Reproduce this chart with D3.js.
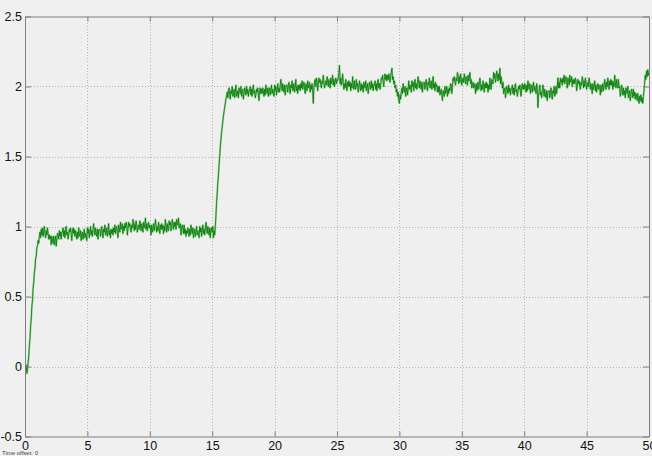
<!DOCTYPE html>
<html>
<head>
<meta charset="utf-8">
<script src="https://cdn.jsdelivr.net/npm/d3@7"></script>
<style>
  html, body { margin: 0; padding: 0; background: #f0f0f0; }
  svg { display: block; }
  text { font-family: "Liberation Sans", Arial, Helvetica, sans-serif; }
</style>
</head>
<body>
<svg id="chart" width="652" height="456"></svg>
<script>
// Scope trace: one sample every 0.05 s from t = 0 to t = 50 (one row per second)
const sampleStep = 0.05;
const signal = [
  0.02, -0.03, 0.01, -0.05, -0.02, 0.03, 0.07, 0.15, 0.20, 0.29, 0.34, 0.43, 0.47, 0.56, 0.60, 0.67, 0.70, 0.77, 0.79, 0.85,
  0.86, 0.90, 0.88, 0.93, 0.96, 0.92, 0.98, 0.94, 0.99, 0.93, 0.97, 1.00, 0.95, 0.92, 0.97, 0.94, 0.99, 0.95, 0.91, 0.94,
  0.91, 0.93, 0.87, 0.93, 0.90, 0.88, 0.93, 0.87, 0.90, 0.93, 0.86, 0.91, 0.95, 0.94, 0.91, 0.97, 0.93, 0.96, 0.91, 0.96,
  0.96, 0.99, 0.93, 0.97, 0.92, 0.98, 1.00, 0.94, 0.96, 0.91, 0.94, 0.98, 0.96, 0.99, 0.94, 0.90, 0.97, 0.99, 0.95, 0.98,
  0.93, 0.97, 0.95, 0.91, 0.96, 0.92, 0.99, 0.95, 0.93, 0.97, 0.90, 0.94, 0.96, 0.91, 0.95, 0.98, 0.92, 0.95, 0.93, 0.90,
  0.99, 0.95, 0.98, 0.92, 0.96, 1.00, 0.94, 0.97, 0.93, 0.98, 1.02, 0.97, 0.94, 0.99, 0.95, 0.93, 0.98, 0.91, 0.97, 0.98,
  0.98, 0.93, 0.97, 1.00, 0.95, 0.92, 0.98, 0.96, 1.01, 0.94, 0.95, 0.99, 0.93, 0.97, 1.02, 0.94, 0.97, 0.92, 0.98, 0.95,
  0.98, 0.94, 0.99, 0.96, 1.01, 0.95, 0.98, 1.00, 0.96, 0.92, 1.01, 0.99, 0.96, 1.03, 0.98, 1.00, 1.02, 0.95, 1.00, 0.97,
  1.02, 0.99, 1.03, 1.01, 0.94, 0.98, 1.03, 1.00, 1.02, 0.98, 0.96, 1.01, 0.99, 1.05, 1.03, 0.97, 1.02, 0.98, 1.04, 1.01,
  0.96, 0.99, 1.01, 0.98, 1.04, 1.01, 0.97, 1.02, 1.00, 0.96, 1.03, 0.99, 1.01, 1.06, 0.98, 1.02, 0.97, 1.01, 1.03, 0.99,
  1.01, 1.00, 0.94, 1.01, 0.96, 0.98, 1.02, 0.97, 1.00, 1.05, 1.01, 0.96, 1.00, 0.97, 1.03, 0.99, 0.95, 1.01, 0.98, 1.02,
  0.98, 1.01, 0.95, 1.00, 0.97, 1.05, 1.00, 0.96, 1.02, 0.98, 0.97, 1.04, 1.01, 1.03, 0.97, 1.00, 1.05, 1.02, 0.98, 1.03,
  1.00, 1.03, 0.98, 1.05, 1.03, 1.01, 1.06, 0.99, 1.00, 1.02, 0.94, 0.98, 1.01, 0.99, 0.95, 1.01, 0.95, 0.98, 0.93, 0.97,
  0.95, 0.99, 0.97, 0.93, 0.98, 0.94, 1.01, 0.97, 0.95, 0.99, 0.92, 0.96, 0.98, 0.93, 0.97, 1.00, 0.94, 0.97, 0.95, 0.92,
  1.00, 0.96, 0.99, 0.93, 0.97, 1.01, 0.95, 0.98, 0.94, 0.99, 1.03, 0.98, 0.95, 1.00, 0.96, 0.94, 0.99, 0.92, 0.98, 0.99,
  0.96, 1.00, 0.92, 0.97, 0.94, 1.00, 1.08, 1.17, 1.24, 1.31, 1.37, 1.44, 1.50, 1.57, 1.62, 1.67, 1.71, 1.75, 1.79, 1.82,
  1.85, 1.88, 1.91, 1.93, 1.96, 1.92, 1.97, 1.99, 1.94, 1.91, 1.97, 1.95, 2.00, 1.93, 1.94, 1.98, 1.92, 1.96, 2.01, 1.93,
  1.94, 1.97, 1.92, 1.99, 1.97, 1.95, 2.00, 1.93, 1.96, 1.98, 1.91, 1.95, 1.99, 1.97, 1.94, 2.00, 1.95, 1.98, 1.93, 1.97,
  1.97, 2.00, 1.94, 1.98, 1.93, 1.99, 2.01, 1.95, 1.97, 1.92, 1.94, 1.98, 1.96, 1.99, 1.94, 1.90, 1.97, 1.99, 1.95, 1.98,
  1.95, 1.99, 1.97, 1.93, 1.98, 1.94, 2.01, 1.97, 1.95, 1.99, 1.93, 1.97, 1.99, 1.94, 1.98, 2.01, 1.95, 1.98, 1.96, 1.93,
  2.01, 1.97, 2.00, 1.94, 1.98, 2.02, 1.96, 1.99, 1.96, 2.01, 2.05, 2.00, 1.97, 2.02, 1.98, 1.96, 2.01, 1.94, 2.00, 2.01,
  2.01, 1.96, 2.00, 2.03, 1.98, 1.95, 2.01, 1.99, 2.04, 1.97, 1.98, 2.02, 1.96, 2.00, 2.05, 1.97, 2.00, 1.95, 2.01, 1.98,
  2.01, 1.97, 2.02, 1.99, 2.04, 1.98, 2.01, 2.03, 1.99, 1.95, 2.02, 2.00, 1.97, 2.04, 1.99, 2.01, 2.03, 1.96, 2.01, 1.98,
  2.02, 1.97, 1.88, 1.99, 2.03, 2.05, 2.00, 2.06, 2.04, 1.97, 2.01, 2.06, 2.03, 2.05, 2.01, 1.99, 2.04, 2.02, 2.08, 2.03,
  1.99, 2.02, 2.04, 2.01, 2.07, 2.04, 2.00, 2.05, 2.03, 1.99, 2.06, 2.02, 2.04, 2.08, 2.01, 2.05, 2.00, 2.04, 2.06, 2.02,
  2.05, 2.04, 2.06, 2.10, 2.15, 2.02, 2.06, 2.01, 2.04, 2.09, 2.03, 1.98, 2.02, 1.99, 2.05, 2.01, 1.97, 2.03, 2.00, 2.04,
  2.00, 2.03, 1.97, 2.02, 1.99, 2.07, 2.02, 1.98, 2.04, 2.00, 1.98, 2.05, 2.00, 2.02, 1.96, 1.99, 2.04, 2.01, 1.97, 2.02,
  1.98, 2.01, 1.96, 2.03, 2.01, 1.99, 2.04, 1.97, 2.00, 2.02, 1.95, 1.99, 2.03, 2.01, 1.98, 2.04, 1.99, 2.02, 1.97, 2.01,
  2.01, 2.04, 1.98, 2.02, 1.97, 2.03, 2.05, 1.99, 2.02, 1.98, 2.01, 2.06, 2.05, 2.08, 2.03, 2.00, 2.07, 2.09, 2.05, 2.08,
  2.04, 2.08, 2.05, 2.09, 2.06, 2.03, 2.08, 2.10, 2.13, 2.05, 2.07, 2.02, 2.04, 1.99, 2.01, 1.96, 1.98, 1.93, 1.96, 1.90,
  1.88, 1.94, 1.91, 1.96, 1.99, 1.95, 2.02, 1.98, 1.96, 2.00, 1.93, 1.97, 1.99, 1.94, 1.98, 2.04, 1.98, 2.01, 1.99, 1.96,
  2.04, 2.00, 2.03, 1.97, 2.01, 2.05, 1.99, 2.02, 1.98, 2.03, 2.07, 2.02, 1.99, 2.04, 2.00, 1.98, 2.03, 1.96, 2.02, 2.03,
  2.03, 1.98, 2.02, 2.05, 2.00, 1.97, 2.03, 2.01, 2.06, 1.99, 2.00, 2.04, 1.98, 2.02, 2.07, 1.99, 2.02, 1.97, 2.03, 2.00,
  2.01, 1.96, 2.00, 1.96, 2.00, 1.94, 1.96, 1.98, 1.94, 1.90, 1.97, 1.96, 1.93, 2.00, 1.95, 1.97, 2.00, 1.93, 1.98, 1.95,
  1.99, 1.97, 2.02, 2.01, 1.95, 2.00, 2.06, 2.04, 2.07, 2.03, 2.01, 2.06, 2.04, 2.10, 2.08, 2.02, 2.07, 2.03, 2.09, 2.06,
  2.01, 2.04, 2.06, 2.03, 2.09, 2.06, 2.02, 2.07, 2.05, 2.01, 2.08, 2.04, 2.06, 2.10, 2.02, 2.05, 1.99, 2.02, 2.03, 1.99,
  2.02, 2.01, 1.95, 2.02, 1.97, 1.99, 2.03, 1.98, 2.01, 2.06, 2.02, 1.97, 2.01, 1.98, 2.04, 2.00, 1.96, 2.02, 1.99, 2.03,
  1.99, 2.02, 1.96, 2.01, 1.98, 2.06, 2.01, 1.98, 2.05, 2.02, 2.02, 2.10, 2.06, 2.09, 2.03, 2.06, 2.11, 2.08, 2.04, 2.09,
  2.05, 2.13, 2.02, 2.07, 2.03, 1.99, 2.03, 1.95, 1.97, 1.99, 1.92, 1.96, 2.00, 1.98, 1.95, 2.01, 1.96, 1.99, 1.94, 1.98,
  1.98, 2.01, 1.95, 1.99, 1.94, 2.00, 2.02, 1.96, 1.98, 1.93, 1.96, 2.00, 1.98, 2.01, 1.96, 1.93, 2.00, 2.02, 1.98, 2.01,
  1.98, 2.02, 2.00, 1.96, 2.01, 1.97, 2.04, 2.00, 1.98, 2.02, 1.95, 1.99, 2.01, 1.96, 2.00, 2.03, 1.97, 2.00, 1.98, 1.95,
  2.02, 1.98, 1.85, 1.94, 1.97, 2.01, 1.94, 1.96, 1.92, 1.97, 2.01, 1.96, 1.93, 1.98, 1.94, 1.92, 1.97, 1.90, 1.96, 1.97,
  1.97, 1.92, 1.96, 1.99, 1.94, 1.91, 1.97, 1.95, 2.00, 1.93, 1.95, 2.00, 1.95, 2.00, 2.06, 1.99, 2.03, 1.99, 2.06, 2.03,
  2.05, 2.01, 2.06, 2.03, 2.08, 2.02, 2.05, 2.07, 2.03, 1.99, 2.06, 2.04, 2.01, 2.08, 2.03, 2.05, 2.07, 2.00, 2.05, 2.02,
  2.05, 2.02, 2.06, 2.04, 1.97, 2.00, 2.05, 2.02, 2.04, 2.00, 1.98, 2.03, 2.01, 2.07, 2.05, 1.99, 2.04, 2.00, 2.06, 2.03,
  1.98, 2.01, 2.03, 2.00, 2.06, 2.03, 1.98, 2.02, 1.99, 1.95, 2.02, 1.98, 2.00, 2.04, 1.97, 2.01, 1.96, 2.00, 2.02, 1.98,
  2.01, 2.00, 1.94, 2.01, 1.96, 1.98, 2.02, 1.97, 2.00, 2.05, 2.02, 1.98, 2.03, 2.00, 2.06, 2.02, 1.98, 2.04, 2.01, 2.05,
  2.01, 2.04, 1.98, 2.03, 2.00, 2.08, 2.03, 1.99, 2.05, 2.01, 1.99, 2.05, 1.99, 2.00, 1.93, 1.96, 2.01, 1.98, 1.94, 1.99,
  1.94, 1.97, 1.92, 1.99, 1.97, 1.95, 2.00, 1.92, 1.95, 1.97, 1.90, 1.94, 1.98, 1.96, 1.92, 1.98, 1.93, 1.96, 1.91, 1.95,
  1.94, 1.90, 1.95, 1.91, 1.88, 1.93, 1.90, 1.94, 1.89, 1.92, 1.88, 1.93, 1.97, 2.03, 2.08, 2.05, 2.11, 2.07, 2.12, 2.08,
  2.10
];

const xTicks = [0, 5, 10, 15, 20, 25, 30, 35, 40, 45, 50];
const yTicks = [-0.5, 0, 0.5, 1, 1.5, 2, 2.5];
const timeOffsetLabel = "Time offset:  0";

const svg = d3.select("#chart");
const W = 652, H = 456;
const plot = { left: 25, right: 649, top: 16.5, bottom: 436.5 };

const x = d3.scaleLinear().domain([0, 50]).range([plot.left, plot.right]);
const y = d3.scaleLinear().domain([-0.5, 2.5]).range([plot.bottom, plot.top]);

// figure background
svg.append("rect").attr("width", W).attr("height", H).attr("fill", "#f0f0f0");

// axes background
svg.append("rect")
  .attr("x", plot.left).attr("y", plot.top)
  .attr("width", plot.right - plot.left).attr("height", plot.bottom - plot.top)
  .attr("fill", "#efefef");

// dotted grid
const grid = svg.append("g").attr("stroke", "#b4b4b4").attr("stroke-width", 1)
  .attr("stroke-dasharray", "1,2").attr("shape-rendering", "crispEdges");
grid.selectAll(".gx").data(xTicks.slice(1, -1)).join("line")
  .attr("x1", d => Math.round(x(d)) + 0.5).attr("x2", d => Math.round(x(d)) + 0.5)
  .attr("y1", plot.top).attr("y2", plot.bottom);
grid.selectAll(".gy").data(yTicks.slice(1, -1)).join("line")
  .attr("y1", d => Math.round(y(d)) + 0.5).attr("y2", d => Math.round(y(d)) + 0.5)
  .attr("x1", plot.left).attr("x2", plot.right);

// signal trace: soft light-green fringe under a dark-green core
const clipId = "plotClip";
svg.append("clipPath").attr("id", clipId).append("rect")
  .attr("x", plot.left).attr("y", plot.top)
  .attr("width", plot.right - plot.left).attr("height", plot.bottom - plot.top);

const line = d3.line()
  .x((d, i) => x(i * sampleStep))
  .y(d => y(d));

const trace = svg.append("g").attr("clip-path", `url(#${clipId})`);
trace.append("path").datum(signal)
  .attr("d", line).attr("fill", "none")
  .attr("stroke", "#5cb85c").attr("stroke-width", 2).attr("stroke-opacity", 0.55)
  .attr("stroke-linejoin", "round");
trace.append("path").datum(signal)
  .attr("d", line).attr("fill", "none")
  .attr("stroke", "#007a00").attr("stroke-width", 0.8)
  .attr("stroke-linejoin", "round");

// axes with inward ticks
const axisColor = "#7f7f7f";
const styleAxis = g => {
  g.select(".domain").attr("stroke", axisColor);
  g.selectAll(".tick line").attr("stroke", axisColor);
  g.selectAll(".tick text").attr("fill", "#111").style("font-size", "12.5px")
    .style("font-family", '"Liberation Sans", Arial, Helvetica, sans-serif');
};

svg.append("g").attr("transform", `translate(0,${plot.bottom})`)
  .call(d3.axisBottom(x).tickValues(xTicks).tickFormat(d3.format("d"))
    .tickSizeInner(-5).tickSizeOuter(0).tickPadding(5))
  .call(styleAxis);

svg.append("g").attr("transform", `translate(${plot.left},0)`)
  .call(d3.axisLeft(y).tickValues(yTicks).tickFormat(d => String(d))
    .tickSizeInner(-6).tickSizeOuter(0).tickPadding(3))
  .call(styleAxis);

svg.append("g").attr("transform", `translate(0,${plot.top})`)
  .call(d3.axisTop(x).tickValues(xTicks).tickFormat("")
    .tickSizeInner(-5).tickSizeOuter(0))
  .call(styleAxis);

svg.append("g").attr("transform", `translate(${plot.right},0)`)
  .call(d3.axisRight(y).tickValues(yTicks).tickFormat("")
    .tickSizeInner(-6).tickSizeOuter(0))
  .call(styleAxis);

// time offset caption
svg.append("text")
  .attr("x", 2).attr("y", 455)
  .attr("fill", "#444").style("font-size", "6px")
  .text(timeOffsetLabel);
</script>
</body>
</html>
